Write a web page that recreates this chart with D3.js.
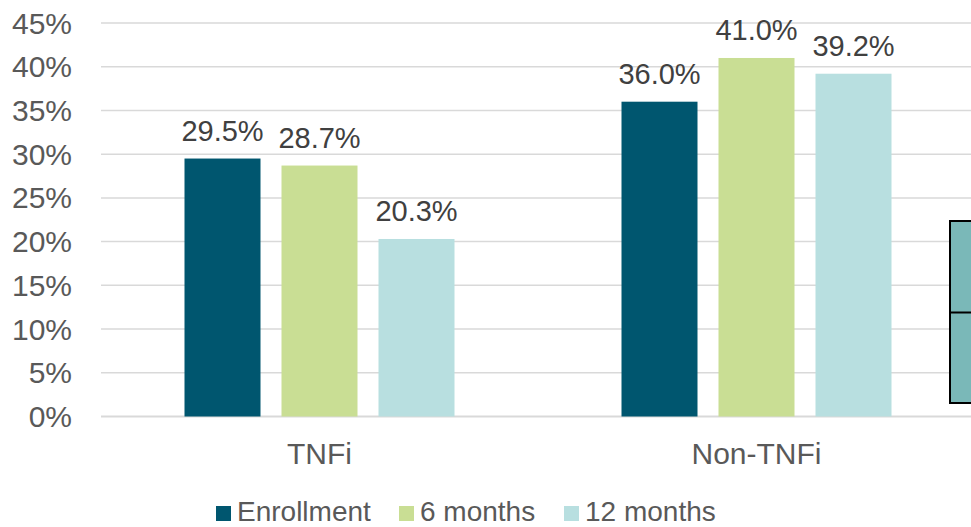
<!DOCTYPE html>
<html lang="en">

<head>
    <meta charset="UTF-8">
    <title>TNFi chart</title>
    <script src="https://cdn.jsdelivr.net/npm/d3@7"></script>
    <style>
        body { margin: 0; background: #fff; }
        text { font-family: "Liberation Sans", Arial, sans-serif; }
    </style>
</head>

<body>
    <svg width="971" height="527"></svg>
    <script>
        // data
        const categories = ['TNFi', 'Non-TNFi']
        const seriesNames = ['Enrollment', '6 months', '12 months']
        const enrollment = [29.5, 36.0]
        const sixMonths = [28.7, 41.0]
        const twelveMonths = [20.3, 39.2]
        const yTicks = [0, 5, 10, 15, 20, 25, 30, 35, 40, 45]
        const colors = ['#00566f', '#c9de94', '#b8dfe0']

        const seriesValues = [enrollment, sixMonths, twelveMonths]
        const svg = d3.select('svg')

        // plot area (right side runs off the window like in the picture)
        const plotLeft = 101, plotRight = 975, plotTop = 23, plotBottom = 416.5

        const x = d3.scaleBand().domain(categories).range([plotLeft, plotRight])
        const xs = d3.scaleBand().domain(seriesNames).range([-135, 135]).paddingInner(0.2165)
        const y = d3.scaleLinear().domain([0, 45]).range([plotBottom, plotTop])

        // gridlines
        svg.append('g')
            .selectAll('line')
            .data(yTicks)
            .enter()
            .append('line')
            .attr('x1', plotLeft)
            .attr('x2', plotRight)
            .attr('y1', d => y(d))
            .attr('y2', d => y(d))
            .attr('stroke', '#d9d9d9')
            .attr('stroke-width', d => d === 0 ? 2 : 1.5)

        // y axis labels
        svg.append('g')
            .selectAll('text')
            .data(yTicks)
            .enter()
            .append('text')
            .attr('x', 72)
            .attr('y', d => y(d) + 10.5)
            .attr('text-anchor', 'end')
            .attr('font-size', 30)
            .attr('fill', '#595959')
            .text(d => d + '%')

        // bars + labels
        const rows = []
        categories.forEach((c, ci) => {
            seriesNames.forEach((s, si) => {
                rows.push({ cat: c, series: s, si: si, value: seriesValues[si][ci] })
            })
        })

        const bx = d => x(d.cat) + x.bandwidth() / 2 + xs(d.series)

        svg.append('g')
            .selectAll('rect')
            .data(rows)
            .enter()
            .append('rect')
            .attr('x', bx)
            .attr('width', xs.bandwidth())
            .attr('y', d => y(d.value))
            .attr('height', d => y(0) - y(d.value))
            .attr('fill', d => colors[d.si])

        svg.append('g')
            .selectAll('text')
            .data(rows)
            .enter()
            .append('text')
            .attr('x', d => bx(d) + xs.bandwidth() / 2)
            .attr('y', d => y(d.value) - 18)
            .attr('text-anchor', 'middle')
            .attr('font-size', 29)
            .attr('fill', '#404040')
            .text(d => d.value.toFixed(1) + '%')

        // category labels
        svg.append('g')
            .selectAll('text')
            .data(categories)
            .enter()
            .append('text')
            .attr('x', d => x(d) + x.bandwidth() / 2)
            .attr('y', 464)
            .attr('text-anchor', 'middle')
            .attr('font-size', 30)
            .attr('fill', '#595959')
            .text(d => d)

        // stray box at right edge of the picture
        const box = svg.append('g')
        box.append('rect')
            .attr('x', 950).attr('y', 221)
            .attr('width', 30).attr('height', 182)
            .attr('fill', '#7ab8b8')
            .attr('stroke', '#000')
            .attr('stroke-width', 2)
        box.append('line')
            .attr('x1', 950).attr('x2', 980)
            .attr('y1', 312.5).attr('y2', 312.5)
            .attr('stroke', '#000')
            .attr('stroke-width', 2)

        // legend
        const legendX = [216, 399, 564]
        const legend = svg.append('g')
            .selectAll('g')
            .data(seriesNames)
            .enter()
            .append('g')
            .attr('transform', (d, i) => `translate(${legendX[i]},0)`)
        legend.append('rect')
            .attr('y', 506)
            .attr('width', 15)
            .attr('height', 15)
            .attr('fill', (d, i) => colors[i])
        legend.append('text')
            .attr('x', 21)
            .attr('y', 521)
            .attr('font-size', 28)
            .attr('fill', '#595959')
            .text(d => d)
    </script>
</body>

</html>
